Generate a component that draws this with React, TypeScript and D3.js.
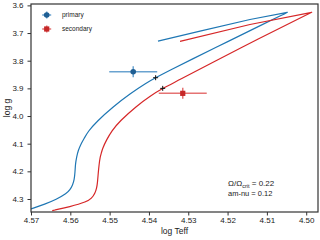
import { useEffect, useRef } from "react";
import * as d3 from "d3";

// evolutionary tracks (log Teff, log g), from ZAMS up to the hook and back
const primaryTrackTeff = [
  4.57, 4.5664, 4.5636, 4.5609, 4.5601, 4.5594, 4.559, 4.5588, 4.5587, 4.5584, 4.558, 4.5573,
  4.5565, 4.5555, 4.5533, 4.5491, 4.5448, 4.5406, 4.5383, 4.5346, 4.5296, 4.5194, 4.5118,
  4.5059, 4.5048, 4.5143, 4.527, 4.5377,
];
const primaryTrackLogg = [
  4.336, 4.318, 4.302, 4.279, 4.2675, 4.249, 4.2313, 4.2024, 4.1735, 4.1481, 4.1246, 4.1011,
  4.0813, 4.056, 4.0198, 3.9663, 3.9193, 3.8799, 3.8615, 3.834, 3.7985, 3.7273, 3.6738, 3.633,
  3.625, 3.651, 3.693, 3.729,
];
const secondaryTrackTeff = [
  4.5646, 4.5601, 4.5558, 4.5546, 4.5537, 4.5533, 4.5531, 4.5529, 4.5527, 4.5524, 4.5521,
  4.5518, 4.5508, 4.5495, 4.5474, 4.5433, 4.5397, 4.5365, 4.5326, 4.5237, 4.5118, 4.5016,
  4.4986, 4.5143, 4.5321,
];
const secondaryTrackLogg = [
  4.342, 4.328, 4.31, 4.2982, 4.279, 4.2602, 4.243, 4.207, 4.1771, 4.147, 4.1337, 4.1167,
  4.0867, 4.0541, 4.018, 3.9656, 3.9276, 3.9, 3.872, 3.805, 3.718, 3.646, 3.625, 3.669, 3.73,
];

// observed stars
const starNames = ["primary", "secondary"];
const starTeff = [4.544, 4.5314];
const starLogg = [3.84, 3.918];
const starTeffErr = [0.0061, 0.0061];
const starLoggErr = [0.02, 0.02];

// best-fit model positions on the tracks
const fitTeff = [4.5383, 4.5365];
const fitLogg = [3.8615, 3.9];

const xTicks = [4.57, 4.56, 4.55, 4.54, 4.53, 4.52, 4.51, 4.5];
const yTicks = [3.6, 3.7, 3.8, 3.9, 4.0, 4.1, 4.2, 4.3];

const FONT = "'Liberation Sans', Arial, sans-serif";

export default function App() {
  const svgRef = useRef<SVGSVGElement>(null);

  useEffect(() => {
    if (!svgRef.current) return;
    const svg = d3.select(svgRef.current);
    svg.selectAll("*").remove();

    const width = 320;
    const height = 240;
    const margin = { top: 4, right: 2, bottom: 28, left: 31 };

    const x = d3.scaleLinear().domain([4.57, 4.497]).range([margin.left, width - margin.right]);
    const y = d3.scaleLinear().domain([3.595, 4.347]).range([margin.top, height - margin.bottom]);

    svg.append("rect").attr("width", width).attr("height", height).attr("fill", "#fff");

    svg
      .append("clipPath")
      .attr("id", "plot-clip")
      .append("rect")
      .attr("x", margin.left)
      .attr("y", margin.top)
      .attr("width", width - margin.left - margin.right)
      .attr("height", height - margin.top - margin.bottom);

    // smooth rising part up to the hook, the return branch is nearly straight
    const lowerLine = d3
      .line<[number, number]>()
      .x((d) => x(d[0]))
      .y((d) => y(d[1]))
      .curve(d3.curveBasis);
    const upperLine = d3
      .line<[number, number]>()
      .x((d) => x(d[0]))
      .y((d) => y(d[1]));

    const plot = svg.append("g").attr("clip-path", "url(#plot-clip)");

    const tracks = [
      { teff: primaryTrackTeff, logg: primaryTrackLogg, color: "#1f77b4" },
      { teff: secondaryTrackTeff, logg: secondaryTrackLogg, color: "#d62728" },
    ];
    tracks.forEach((t) => {
      const pts = t.teff.map((v, i) => [v, t.logg[i]] as [number, number]);
      const tip = d3.minIndex(t.teff);
      const d = (lowerLine(pts.slice(0, tip + 1)) ?? "") + (upperLine(pts.slice(tip)) ?? "").replace(/^M/, "L");
      plot
        .append("path")
        .attr("d", d)
        .attr("fill", "none")
        .attr("stroke", t.color)
        .attr("stroke-width", 1.2)
        .attr("stroke-linejoin", "round");
    });

    const barColors = ["#6aa3d0", "#e57373"];
    const markColors = ["#1f5f94", "#c62828"];

    const drawMarker = (g: d3.Selection<SVGGElement, unknown, null, undefined>, i: number) => {
      if (i === 0) {
        g.append("circle").attr("r", 2.8).attr("fill", markColors[0]);
      } else {
        g.append("rect")
          .attr("x", -2.6)
          .attr("y", -2.6)
          .attr("width", 5.2)
          .attr("height", 5.2)
          .attr("fill", markColors[1]);
      }
    };

    starNames.forEach((_, i) => {
      const cx = x(starTeff[i]);
      const cy = y(starLogg[i]);
      const g = plot.append("g");
      g.append("line")
        .attr("x1", x(starTeff[i] + starTeffErr[i]))
        .attr("x2", x(starTeff[i] - starTeffErr[i]))
        .attr("y1", cy)
        .attr("y2", cy)
        .attr("stroke", barColors[i])
        .attr("stroke-width", 1.5);
      g.append("line")
        .attr("x1", cx)
        .attr("x2", cx)
        .attr("y1", y(starLogg[i] - starLoggErr[i]))
        .attr("y2", y(starLogg[i] + starLoggErr[i]))
        .attr("stroke", barColors[i])
        .attr("stroke-width", 1.5);
      const m = g.append("g").attr("transform", `translate(${cx},${cy})`);
      drawMarker(m, i);
    });

    plot
      .append("g")
      .selectAll("path")
      .data(fitTeff.map((v, i) => [v, fitLogg[i]]))
      .join("path")
      .attr("transform", (d) => `translate(${x(d[0])},${y(d[1])})`)
      .attr("d", "M-2.5,0H2.5M0,-2.5V2.5")
      .attr("stroke", "#111")
      .attr("stroke-width", 1);

    // axes
    const xAxis = svg
      .append("g")
      .attr("transform", `translate(0,${height - margin.bottom})`)
      .call(
        d3
          .axisBottom(x)
          .tickValues(xTicks)
          .tickFormat((d) => d3.format(".2f")(d as number))
          .tickSize(3.5)
          .tickPadding(2),
      );
    const yAxis = svg
      .append("g")
      .attr("transform", `translate(${margin.left},0)`)
      .call(
        d3
          .axisLeft(y)
          .tickValues(yTicks)
          .tickFormat((d) => d3.format(".1f")(d as number))
          .tickSize(3.5)
          .tickPadding(4),
      );
    [xAxis, yAxis].forEach((a) => {
      a.select(".domain").remove();
      a.selectAll("line").attr("stroke", "#333").attr("stroke-width", 1);
      a.selectAll("text")
        .attr("fill", "#222")
        .attr("font-family", FONT)
        .attr("font-size", 8);
    });

    svg
      .append("rect")
      .attr("x", margin.left)
      .attr("y", margin.top)
      .attr("width", width - margin.left - margin.right)
      .attr("height", height - margin.top - margin.bottom)
      .attr("fill", "none")
      .attr("stroke", "#333")
      .attr("stroke-width", 1.2);

    svg
      .append("text")
      .attr("x", (margin.left + width - margin.right) / 2)
      .attr("y", 234)
      .attr("text-anchor", "middle")
      .attr("font-family", FONT)
      .attr("font-size", 8.5)
      .attr("fill", "#222")
      .text("log Teff");

    svg
      .append("text")
      .attr("transform", `translate(10,${(margin.top + height - margin.bottom) / 2}) rotate(-90)`)
      .attr("text-anchor", "middle")
      .attr("font-family", FONT)
      .attr("font-size", 8.5)
      .attr("fill", "#222")
      .text("log g");

    // legend
    const legend = svg.append("g");
    starNames.forEach((name, i) => {
      const ly = 15 + i * 14;
      const g = legend.append("g").attr("transform", `translate(46.7,${ly})`);
      g.append("line").attr("x1", -4.5).attr("x2", 4.5).attr("stroke", barColors[i]).attr("stroke-width", 1.5);
      g.append("line").attr("y1", -3.5).attr("y2", 3.5).attr("stroke", barColors[i]).attr("stroke-width", 1.5);
      drawMarker(g, i);
      legend
        .append("text")
        .attr("x", 62)
        .attr("y", ly)
        .attr("dy", "0.35em")
        .attr("font-family", FONT)
        .attr("font-size", 6.5)
        .attr("fill", "#222")
        .text(name);
    });

    // annotation
    const ann = svg
      .append("text")
      .attr("x", 228)
      .attr("y", 185.5)
      .attr("font-family", FONT)
      .attr("font-size", 8)
      .attr("fill", "#222");
    ann.append("tspan").text("Ω/Ω");
    ann.append("tspan").attr("font-size", 5.5).attr("dy", 2).text("crit");
    ann.append("tspan").attr("dy", -2).text(" = 0.22");

    svg
      .append("text")
      .attr("x", 228)
      .attr("y", 195.5)
      .attr("font-family", FONT)
      .attr("font-size", 7.5)
      .attr("fill", "#222")
      .text("am-nu = 0.12");
  }, []);

  return (
    <svg
      ref={svgRef}
      width={320}
      height={240}
      style={{ position: "absolute", left: 0, top: 0, display: "block" }}
    />
  );
}
